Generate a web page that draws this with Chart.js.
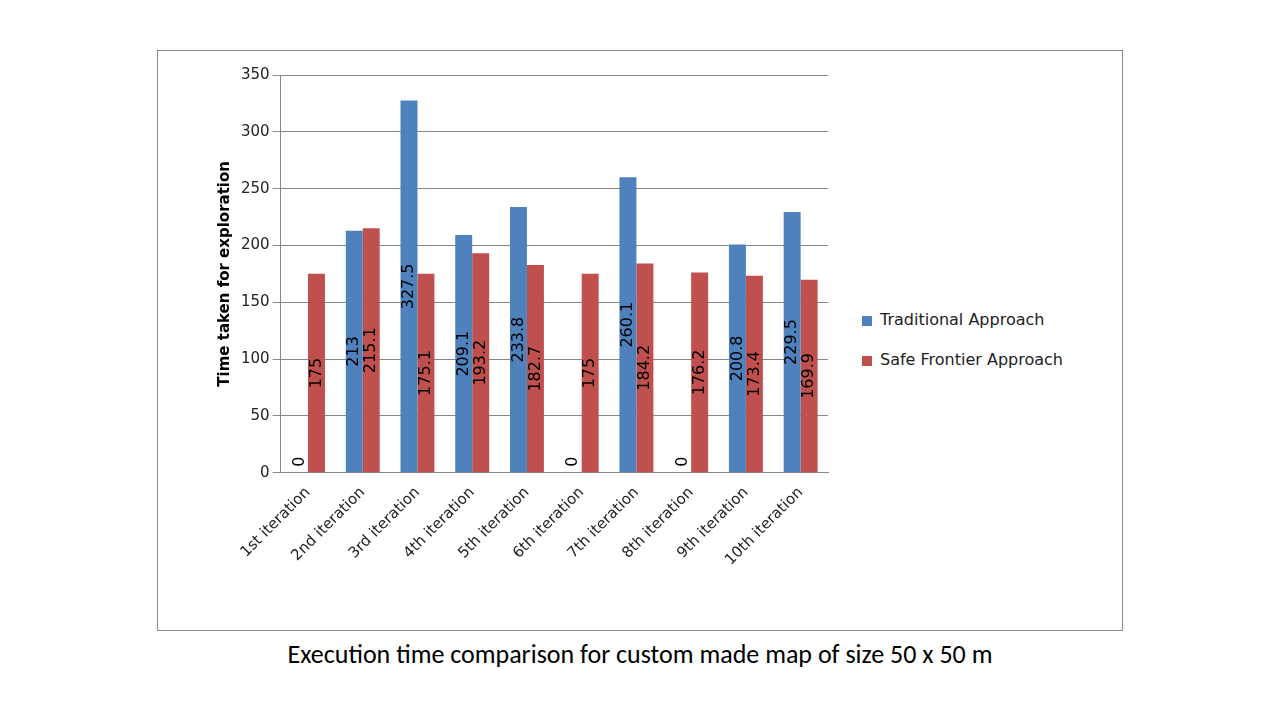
<!DOCTYPE html>
<html>
<head>
<meta charset="utf-8">
<script src="https://cdn.jsdelivr.net/npm/chart.js@4"></script>
<style>
  body { margin: 0; width: 1280px; height: 720px; background: #fff; position: relative; font-family: Calibri, Carlito, "Liberation Sans", sans-serif; overflow: hidden; }
  #box { position: absolute; left: 157px; top: 50px; width: 964px; height: 579px; border: 1px solid #8c8c8c; }
  #wrap { position: absolute; left: 157px; top: 50px; width: 690px; height: 580px; }
  #legend { position: absolute; left: 862px; top: 310px; font-family: "DejaVu Sans", sans-serif; font-size: 16px; color: #222; }
  #legend div { height: 40px; display: flex; align-items: flex-start; }
  #legend span.sw { display: inline-block; width: 10px; height: 10px; margin: 6px 8px 0 0; }
  #caption { position: absolute; left: 0; width: 1280px; top: 638px; text-align: center; font-size: 26px; color: #000; font-family: Carlito, "Liberation Sans", sans-serif; }
</style>
</head>
<body>
<div id="box"></div>
<div id="wrap"><canvas id="canvas"></canvas></div>
<div id="legend">
  <div><span class="sw" style="background:#4F81BD"></span>Traditional Approach</div>
  <div><span class="sw" style="background:#C0504D"></span>Safe Frontier Approach</div>
</div>
<div id="caption">Execution time comparison for custom made map of size 50 x 50 m</div>
<script>
var labels = ['1st iteration', '2nd iteration', '3rd iteration', '4th iteration', '5th iteration',
    '6th iteration', '7th iteration', '8th iteration', '9th iteration', '10th iteration'];
var traditional = [0, 213, 327.5, 209.1, 233.8, 0, 260.1, 0, 200.8, 229.5];
var safeFrontier = [175, 215.1, 175.1, 193.2, 182.7, 175, 184.2, 176.2, 173.4, 169.9];

// vertical value labels, centred in each bar
var barLabels = {
    id: 'barLabels',
    afterDatasetsDraw: function (chart) {
        var ctx = chart.ctx;
        ctx.save();
        ctx.font = '16px "DejaVu Sans", sans-serif';
        ctx.fillStyle = '#000';
        ctx.textBaseline = 'middle';
        chart.data.datasets.forEach(function (ds, di) {
            chart.getDatasetMeta(di).data.forEach(function (bar, i) {
                var v = ds.data[i];
                var yMid = (bar.y + bar.base) / 2;
                ctx.save();
                if (v === 0) {
                    ctx.translate(bar.x, bar.base - 6);
                    ctx.rotate(-Math.PI / 2);
                    ctx.textAlign = 'left';
                } else {
                    ctx.translate(bar.x, yMid);
                    ctx.rotate(-Math.PI / 2);
                    ctx.textAlign = 'center';
                }
                ctx.fillText(String(v), 0, 0);
                ctx.restore();
            });
        });
        ctx.restore();
    }
};

window.onload = function () {
    var ctx = document.getElementById('canvas').getContext('2d');
    window.myBar = new Chart(ctx, {
        type: 'bar',
        data: {
            labels: labels,
            datasets: [{
                label: 'Traditional Approach',
                backgroundColor: '#4F81BD',
                data: traditional
            }, {
                label: 'Safe Frontier Approach',
                backgroundColor: '#C0504D',
                data: safeFrontier
            }]
        },
        options: {
            responsive: true,
            maintainAspectRatio: false,
            animation: false,
            layout: { padding: { top: 25, right: 19, left: 55, bottom: 58 } },
            datasets: { bar: { categoryPercentage: 0.62, barPercentage: 1 } },
            plugins: { legend: { display: false }, tooltip: { enabled: false } },
            scales: {
                x: {
                    grid: { display: false },
                    border: { color: '#868686' },
                    ticks: { color: '#222', font: { size: 15, family: '"DejaVu Sans", sans-serif' }, maxRotation: 45, minRotation: 45 }
                },
                y: {
                    min: 0, max: 350,
                    ticks: { stepSize: 50, color: '#222', font: { size: 15, family: '"DejaVu Sans", sans-serif' } },
                    grid: { color: '#868686' },
                    border: { color: '#868686' },
                    title: { display: true, text: 'Time taken for exploration', color: '#000',
                        font: { size: 15, weight: 'bold', family: '"DejaVu Sans", sans-serif' } }
                }
            }
        },
        plugins: [barLabels]
    });
};
</script>
</body>
</html>
